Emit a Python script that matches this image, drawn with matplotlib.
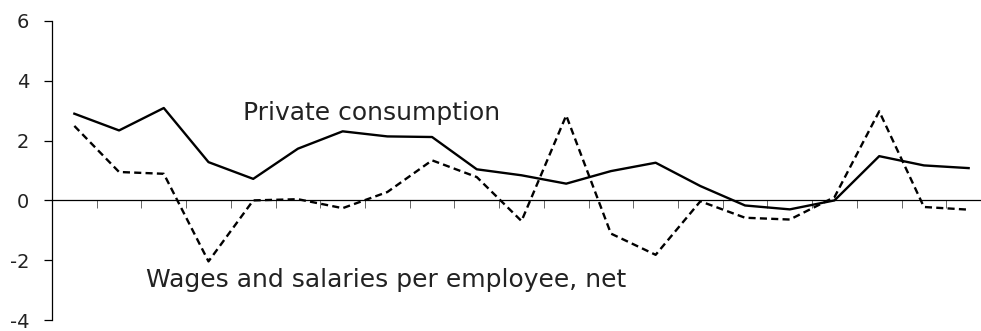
import numpy as np
import matplotlib.pyplot as plt

# annual growth rates, %
consumption = [2.90, 2.34, 3.09, 1.28, 0.72, 1.73, 2.31, 2.14, 2.12, 1.04, 0.84,
               0.56, 0.98, 1.26, 0.48, -0.17, -0.30, 0.0, 1.48, 1.17, 1.08]
wages = [2.49, 0.95, 0.89, -2.04, 0.0, 0.04, -0.26, 0.28, 1.34, 0.78, -0.69,
         2.84, -1.11, -1.82, -0.03, -0.58, -0.64, 0.11, 2.98, -0.22, -0.31]
yticks = [-4, -2, 0, 2, 4, 6]

plt.rcParams['font.family'] = ['DejaVu Sans']

fig = plt.figure(figsize=(9.81, 3.31), dpi=100)
ax = fig.add_axes([52 / 981, 11 / 331, 939 / 981, 299 / 331])

x = np.arange(len(consumption))
ax.plot(x, consumption, color='black', lw=1.7)
ax.plot(x, wages, color='black', lw=1.7, ls=(0, (3, 1.8)))

ax.set_xlim(-0.5, len(x) - 0.5)
ax.set_ylim(-4, 6)
ax.set_yticks(yticks)
ax.set_yticklabels([str(t) for t in yticks], fontsize=14, color='#222222')
ax.set_xticks(np.arange(0.5, len(x) - 0.5, 1))
ax.set_xticklabels([])

ax.spines['top'].set_visible(False)
ax.spines['right'].set_visible(False)
ax.spines['bottom'].set_position(('data', 0))
ax.spines['bottom'].set_linewidth(0.9)
ax.spines['left'].set_linewidth(0.9)
ax.tick_params(axis='x', direction='out', length=6, width=0.7, color='#666666')
ax.tick_params(axis='y', direction='out', length=5.5, width=0.9, pad=11)

ax.text(3.77, 2.68, 'Private consumption', fontsize=18, color='#222222')
ax.text(1.60, -2.91, 'Wages and salaries per employee, net', fontsize=18, color='#222222')

fig.savefig('out.png', dpi=100)
